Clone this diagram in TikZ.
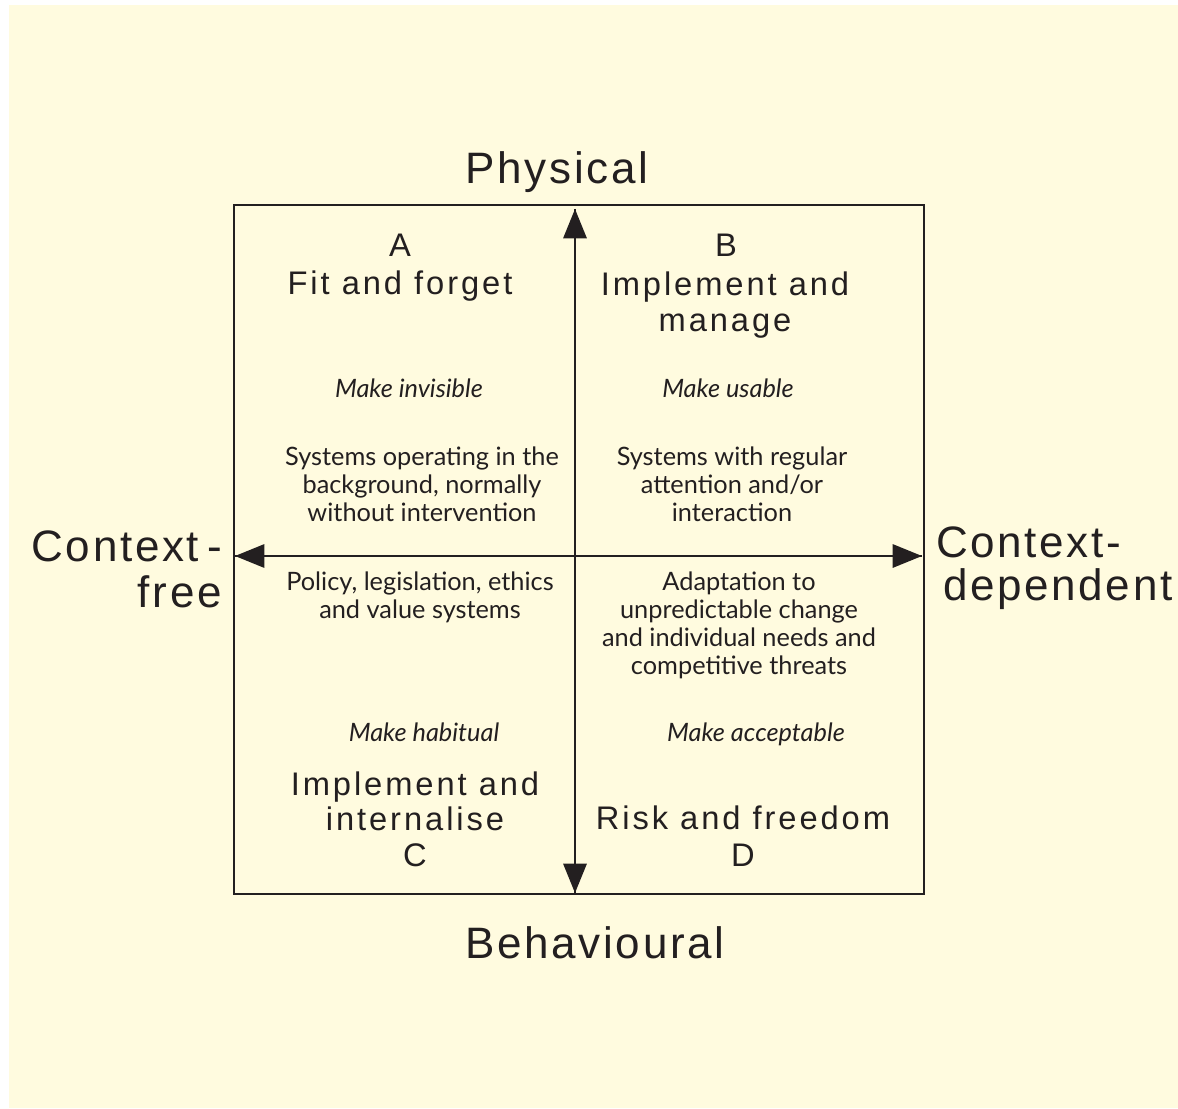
\documentclass[tikz,border=0pt]{standalone}
\usepackage{fontspec}
\setmainfont{Liberation Sans}
\newfontfamily\bigfont[LetterSpace=6]{Liberation Sans}
\newfontfamily\quadfont[LetterSpace=9]{Liberation Sans}
\newfontfamily\bodyfont{Lato}
\usetikzlibrary{arrows.meta}
\definecolor{bg}{RGB}{255,251,223}
\definecolor{ink}{RGB}{35,31,32}
\begin{document}
\begin{tikzpicture}[x=0.75pt,y=-0.75pt,
  axislabel/.style={inner sep=0pt,anchor=base,text=ink,font=\bigfont\fontsize{33}{35}\selectfont},
  quadtitle/.style={inner sep=0pt,anchor=base,text=ink,font=\quadfont\fontsize{24.5}{27}\selectfont},
  modetext/.style={inner sep=0pt,anchor=base,text=ink,font=\bodyfont\itshape\fontsize{19}{21}\selectfont},
  bodytext/.style={inner sep=0pt,align=center,text=ink,font=\bodyfont\fontsize{19}{21}\selectfont},
  axisarrow/.style={draw=ink,line width=1.5pt,-{Triangle[length=22pt,width=17.5pt]}}]
\useasboundingbox (0,0) rectangle (1178,1109);
\fill[white] (0,0) rectangle (1178,1109);
\fill[bg] (9,5) rectangle (1178,1108);
\node[draw=ink,line width=1.5pt,minimum width=517.5pt,minimum height=516.75pt,inner sep=0pt] (box) at (579,549.5) {};
\coordinate (top) at (575,209);
\coordinate (bottom) at (575,893);
\coordinate (left) at (235,556);
\coordinate (right) at (922,556);
\draw[axisarrow] (bottom) -- (top);
\draw[axisarrow] (top) -- (bottom);
\draw[axisarrow] (right) -- (left);
\draw[axisarrow] (left) -- (right);
% axis labels
\node[axislabel] (phys) at (557,184) {Physical};
\node[axislabel] (behav) at (595,958) {Behavioural};
\node[axislabel,anchor=base east] (cf1) at (222,561) {Context\kern6pt-};
\node[axislabel,anchor=base east] (cf2) at (222,607) {free};
\node[axislabel,anchor=base west] (cd1) at (936,557) {Context-};
\node[axislabel,anchor=base west] (cd2) at (943,600) {dependent};
% quadrant titles
\node[quadtitle] (qa1) at (400,257) {A};
\node[quadtitle] (qa2) at (400,295) {Fit and forget};
\node[quadtitle] (qb1) at (726,257) {B};
\node[quadtitle] (qb2) at (725,296) {Implement and};
\node[quadtitle] (qb3) at (725,331) {manage};
\node[quadtitle] (qc1) at (415,795) {Implement and};
\node[quadtitle] (qc2) at (415,830) {internalise};
\node[quadtitle] (qc3) at (415,866) {C};
\node[quadtitle] (qd1) at (743,829) {Risk and freedom};
\node[quadtitle] (qd2) at (743,866) {D};
% modes
\node[modetext] (ma) at (409,397) {Make invisible};
\node[modetext] (mb) at (728,397) {Make usable};
\node[modetext] (mc) at (424,741) {Make habitual};
\node[modetext] (md) at (756,741) {Make acceptable};
% descriptions
\node[bodytext] (da) at (422,484) {Systems operating in the\\background, normally\\without intervention};
\node[bodytext] (db) at (732,484) {Systems with regular\\attention and/or\\interaction};
\node[bodytext] (dc) at (420,597) {Policy, legislation, ethics\\and value systems};
\node[bodytext] (dd) at (739,625) {Adaptation to\\unpredictable change\\and individual needs and\\competitive threats};
\end{tikzpicture}
\end{document}
